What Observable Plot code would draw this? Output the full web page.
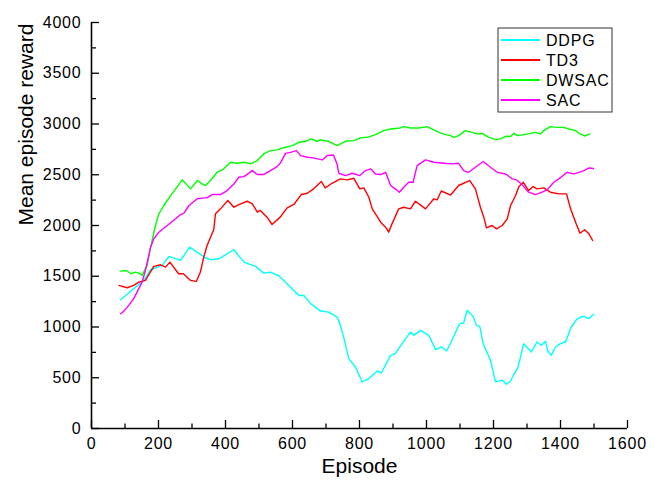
<!DOCTYPE html>
<html><head><meta charset="utf-8">
<script src="https://cdn.jsdelivr.net/npm/d3@7"></script>
<script src="https://cdn.jsdelivr.net/npm/@observablehq/plot@0.6"></script>
<style>
body{margin:0;background:#fff;}
#chart svg [aria-label="x-axis tick label"] text,
#chart svg [aria-label="y-axis tick label"] text{letter-spacing:0.8px;}
</style>
</head><body><div id="chart"></div>
<script>
const seriesNames = ["DDPG","TD3","DWSAC","SAC"];
const seriesColors = ["#00ffff","#ff0000","#00ff00","#ff00ff"];

const ddpgEpisodes = [87,126,156,176,211,231,266,293,325,340,355,380,425,455,490,514,534,559,584,604,619,634,654,684,708,733,743,755,768,788,808,828,853,865,893,907,927,952,962,982,1007,1027,1045,1060,1074,1087,1099,1111,1121,1139,1149,1159,1169,1191,1206,1226,1239,1251,1259,1273,1290,1313,1330,1343,1355,1362,1372,1385,1400,1415,1432,1448,1460,1470,1485,1498];
const ddpgReward = [1269,1377,1459,1564,1607,1695,1656,1787,1715,1682,1663,1672,1761,1639,1597,1531,1541,1505,1426,1360,1311,1311,1230,1157,1147,1098,1016,869,689,606,459,492,567,547,721,738,836,950,918,967,918,777,803,764,852,950,1033,1039,1164,1105,1016,1006,836,672,459,475,436,468,524,600,836,754,852,819,859,764,721,803,836,852,1000,1072,1098,1105,1082,1124];

const td3Episodes = [82,106,126,141,161,186,206,221,234,260,274,296,313,325,335,345,365,370,385,407,425,445,465,480,495,504,524,539,564,584,604,626,644,663,686,698,718,743,763,783,801,813,828,838,853,863,878,887,897,917,932,952,967,997,1022,1032,1044,1072,1096,1129,1146,1161,1171,1179,1196,1209,1226,1241,1251,1266,1276,1289,1305,1318,1330,1350,1370,1395,1418,1430,1445,1458,1472,1485,1496];
const td3Reward = [1410,1387,1410,1442,1459,1597,1613,1590,1639,1525,1525,1459,1449,1541,1688,1803,1960,2115,2164,2246,2180,2213,2239,2213,2131,2148,2082,2010,2085,2174,2207,2305,2318,2361,2433,2371,2416,2459,2449,2465,2361,2371,2278,2164,2088,2033,1983,1934,2016,2164,2180,2164,2239,2164,2263,2253,2340,2300,2394,2443,2361,2180,2082,1977,2000,1967,2000,2066,2197,2295,2384,2426,2344,2384,2361,2371,2328,2312,2312,2164,2033,1924,1958,1918,1852];

const dwsacEpisodes = [87,104,118,131,146,151,166,176,191,201,216,236,251,271,296,316,330,340,355,375,395,415,435,455,475,495,514,534,554,579,599,619,639,656,673,684,708,733,758,783,803,823,848,872,893,922,932,952,977,1002,1022,1037,1057,1072,1082,1096,1116,1136,1151,1166,1186,1206,1221,1236,1251,1261,1271,1290,1310,1325,1340,1350,1370,1390,1410,1425,1445,1458,1472,1488];
const dwsacReward = [1551,1557,1525,1541,1525,1508,1607,1780,2000,2115,2197,2295,2361,2449,2361,2443,2410,2394,2443,2524,2558,2623,2613,2623,2607,2640,2705,2738,2745,2771,2787,2820,2830,2853,2830,2843,2830,2787,2830,2836,2863,2869,2895,2935,2951,2961,2974,2961,2961,2974,2941,2918,2895,2885,2869,2885,2935,2918,2902,2908,2869,2846,2853,2879,2876,2908,2885,2895,2908,2918,2902,2935,2974,2967,2967,2951,2935,2902,2882,2902];

const sacEpisodes = [87,96,111,126,136,151,161,176,186,201,226,251,266,276,291,316,335,345,360,385,405,425,440,455,480,495,514,534,554,564,579,594,612,624,644,663,689,704,722,733,738,758,778,801,818,833,848,863,878,893,907,919,932,947,960,972,997,1022,1052,1072,1096,1111,1126,1146,1169,1191,1211,1236,1256,1269,1285,1305,1325,1345,1360,1380,1395,1420,1440,1455,1470,1485,1498];
const sacReward = [1131,1154,1213,1279,1344,1442,1557,1780,1869,1934,2000,2066,2108,2121,2197,2263,2272,2272,2305,2305,2344,2410,2475,2482,2541,2502,2502,2541,2580,2615,2711,2721,2738,2689,2672,2666,2646,2689,2695,2607,2515,2492,2515,2492,2541,2558,2508,2502,2524,2393,2361,2328,2377,2426,2426,2590,2646,2623,2613,2607,2613,2541,2524,2574,2630,2574,2524,2508,2459,2449,2403,2328,2305,2328,2351,2426,2459,2524,2508,2524,2541,2567,2561];

const xTicks = d3.range(0, 1601, 200);
const xMinorTicks = d3.range(100, 1600, 200);
const yTicks = d3.range(0, 4001, 500);
const yMinorTicks = d3.range(250, 4000, 500);
const xTitle = "Episode";
const yTitle = "Mean episode reward";

const seriesData = [
  [ddpgEpisodes, ddpgReward],
  [td3Episodes, td3Reward],
  [dwsacEpisodes, dwsacReward],
  [sacEpisodes, sacReward]
];
const rows = seriesData.flatMap(([eps, vals], i) =>
  eps.map((e, j) => ({series: seriesNames[i], episode: e, reward: vals[j]})));

const font = "'Liberation Sans', Arial, Helvetica, sans-serif";

const chart = Plot.plot({
  width: 661,
  height: 488,
  marginLeft: 91,
  marginRight: 34,
  marginTop: 22,
  marginBottom: 60,
  style: {fontFamily: font, background: "#fff", color: "#000"},
  x: {domain: [0, 1600]},
  y: {domain: [0, 4000]},
  color: {domain: seriesNames, range: seriesColors},
  marks: [
    Plot.line(rows, {x: "episode", y: "reward", z: "series", stroke: "series", strokeWidth: 1.4}),
    Plot.ruleX([0], {stroke: "#000", strokeWidth: 1.6}),
    Plot.ruleY([0], {stroke: "#000", strokeWidth: 1.6}),
    Plot.axisX({ticks: xTicks, tickSize: -8, tickFormat: () => "", label: null, strokeWidth: 1.3}),
    Plot.axisX({ticks: xMinorTicks, tickSize: -4.5, tickFormat: () => "", label: null, strokeWidth: 1.3}),
    Plot.axisY({ticks: yTicks, tickSize: -8, tickFormat: () => "", label: null, strokeWidth: 1.3}),
    Plot.axisY({ticks: yMinorTicks, tickSize: -5, tickFormat: () => "", label: null, strokeWidth: 1.3}),
    Plot.axisX({ticks: xTicks, tickSize: 0, tickPadding: 9, fontSize: 16, label: null, tickFormat: d => String(d)}),
    Plot.axisY({ticks: yTicks, tickSize: 0, tickPadding: 10, fontSize: 16, label: null, tickFormat: d => String(d)}),
    Plot.text([xTitle], {frameAnchor: "bottom", dy: 44, text: d => d, fontSize: 21, fill: "#000"}),
    Plot.text([yTitle], {frameAnchor: "left", dx: -65, rotate: -90, text: d => d, fontSize: 21, fill: "#000"})
  ]
});

document.getElementById("chart").appendChild(chart);

// legend inside the plot area (top-right)
const svg = d3.select(chart);
const lg = svg.append("g").attr("font-family", font).attr("font-size", 16).attr("text-anchor", "start");
lg.append("rect").attr("x", 498).attr("y", 28).attr("width", 114).attr("height", 84)
  .attr("fill", "#fff").attr("stroke", "#333").attr("stroke-width", 1);
seriesNames.forEach((name, i) => {
  const cy = 40 + i * 20;
  lg.append("line").attr("x1", 501).attr("x2", 540).attr("y1", cy).attr("y2", cy)
    .attr("stroke", seriesColors[i]).attr("stroke-width", 2);
  lg.append("text").attr("x", 546).attr("y", cy).attr("dy", "0.36em")
    .attr("text-anchor", "start").attr("fill", "#000").attr("letter-spacing", "0.8px").text(name);
});
</script>
</body></html>
